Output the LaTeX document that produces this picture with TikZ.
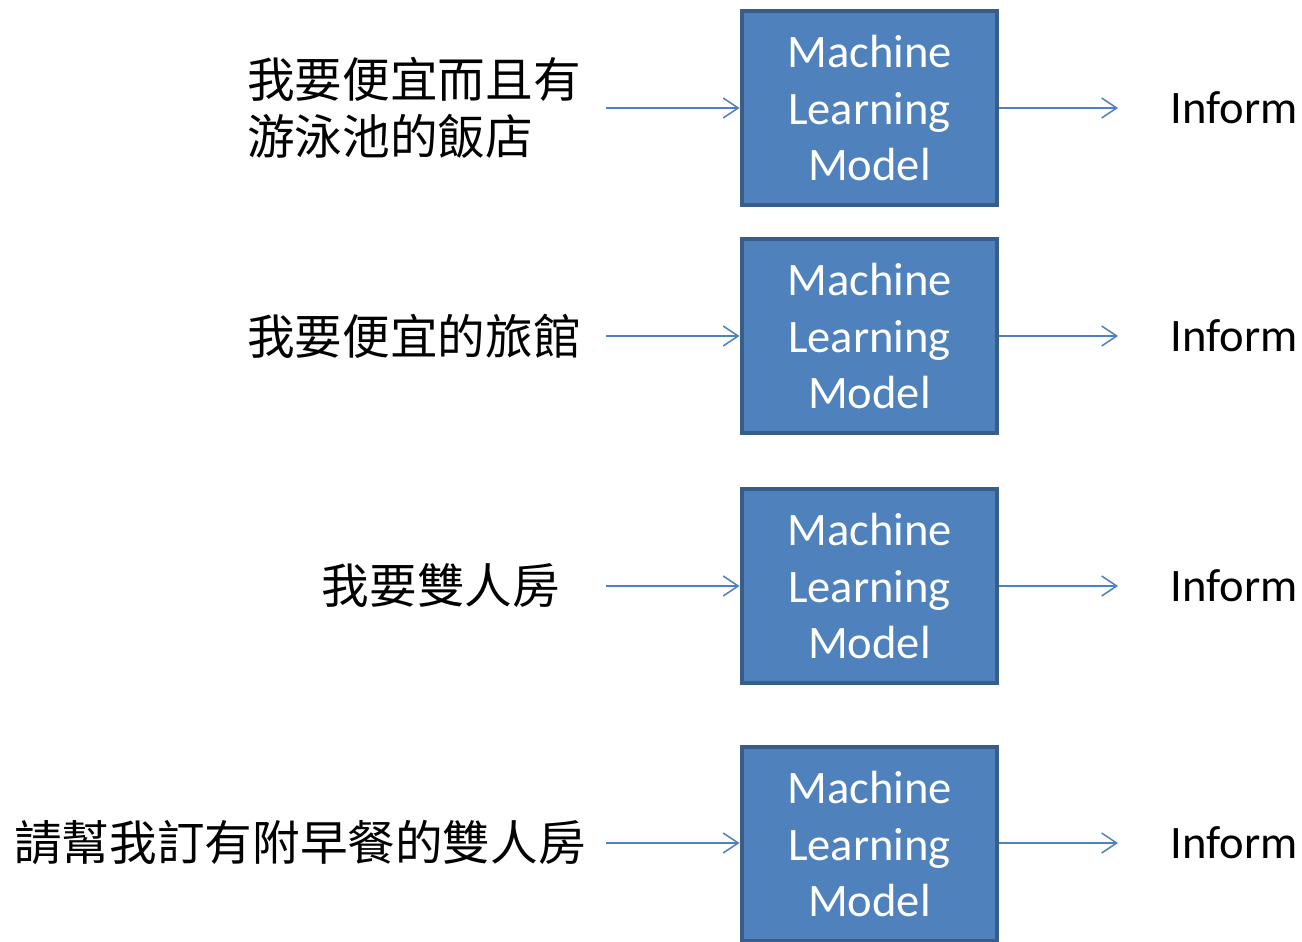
\documentclass[tikz,border=0pt]{standalone}
\usepackage{fontspec}
\setmainfont{Carlito}
\newfontfamily\cjk{Noto Sans CJK TC}
\usetikzlibrary{arrows.meta}
\definecolor{boxfill}{HTML}{4F81BD}
\definecolor{boxline}{HTML}{385D8A}
\tikzset{
  model/.style={draw=boxline, fill=boxfill, line width=0.08cm, minimum width=5.12cm,
    minimum height=3.88cm, align=center, text=white, inner sep=0pt,
    font=\fontsize{26.5}{32.4}\selectfont},
  query/.style={align=left, inner sep=0pt, font=\cjk\fontsize{27.1}{32.4}\selectfont},
  label/.style={inner sep=0pt, anchor=west, font=\fontsize{26.5}{32.4}\selectfont},
  flow/.style={->, boxfill, line width=0.03cm}
}
\begin{document}
\begin{tikzpicture}[x=0.02cm, y=-0.02cm, >={Straight Barb[length=0.3cm,width=0.4cm]}]
			\useasboundingbox (0,0) rectangle (1302,941);
			\def \mx{869.5}
			% inputs
			\node[query, anchor=west] (q1) at (247,108) {我要便宜而且有\\游泳池的飯店};
			\node[query, anchor=west] (q2) at (247,336) {我要便宜的旅館};
			\node[query] (q3) at (441,586) {我要雙人房};
			\node[query, anchor=west] (q4) at (14,843) {請幫我訂有附早餐的雙人房};
			\coordinate (a1) at (606,108);
			\coordinate (a2) at (606,336);
			\coordinate (a3) at (606,586);
			\coordinate (a4) at (606,843);
			% models
			\node[model] (m1) at (\mx,108) {Machine\\Learning\\Model};
			\node[model] (m2) at (\mx,336) {Machine\\Learning\\Model};
			\node[model] (m3) at (\mx,586) {Machine\\Learning\\Model};
			\node[model] (m4) at (\mx,844) {Machine\\Learning\\Model};
			% outputs
			\node[label] (i1) at (1170,108) {Inform};
			\node[label] (i2) at (1170,336) {Inform};
			\node[label] (i3) at (1170,586) {Inform};
			\node[label] (i4) at (1170,843) {Inform};
			\draw[flow] (a1) -- (m1.west);
			\draw[flow] (a2) -- (m2.west);
			\draw[flow] (a3) -- (m3.west);
			\draw[flow] (a4) -- (m4.west |- a4);
			\draw[flow, shorten >=1.04cm] (m1.east) -- (i1.west);
			\draw[flow, shorten >=1.04cm] (m2.east) -- (i2.west);
			\draw[flow, shorten >=1.04cm] (m3.east) -- (i3.west);
			\draw[flow, shorten >=1.04cm] (m4.east |- i4) -- (i4.west);
		\end{tikzpicture}
\end{document}
